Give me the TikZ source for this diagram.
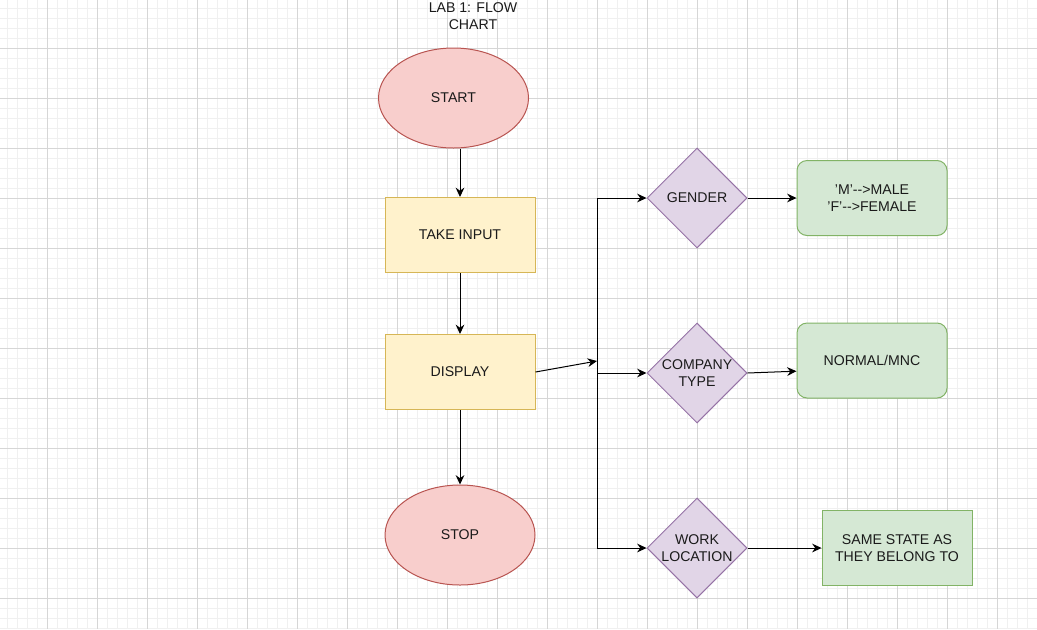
\documentclass[tikz,border=0pt]{standalone}
\usepackage{fontspec}
\setmainfont{Liberation Sans}
\usetikzlibrary{shapes.geometric,arrows.meta}

\definecolor{redfill}{HTML}{F8CECC}
\definecolor{redline}{HTML}{B85450}
\definecolor{yelfill}{HTML}{FFF2CC}
\definecolor{yelline}{HTML}{D6B656}
\definecolor{violfill}{HTML}{E1D5E7}
\definecolor{violline}{HTML}{9673A6}
\definecolor{grnfill}{HTML}{D5E8D4}
\definecolor{grnline}{HTML}{82B366}
\definecolor{txt}{HTML}{1A1A1A}

\begin{document}
\begin{tikzpicture}[x=0.75pt,y=-0.75pt,
    font=\fontsize{10.6}{13.2}\selectfont, text=txt,
    terminal/.style={ellipse, draw=redline, fill=redfill, line width=0.75pt,
        minimum width=112.5pt, minimum height=75pt, inner sep=0pt},
    process/.style={rectangle, draw=yelline, fill=yelfill, line width=0.75pt,
        minimum width=112.5pt, minimum height=56.25pt, inner sep=0pt},
    choice/.style={diamond, draw=violline, fill=violfill, line width=0.75pt,
        minimum width=75pt, minimum height=75pt, inner sep=0pt, align=center},
    result/.style={rectangle, draw=grnline, fill=grnfill, line width=0.75pt,
        minimum width=112.5pt, minimum height=56.25pt, inner sep=0pt, align=center},
    flow/.style={line width=0.75pt, -{Stealth[length=7pt,width=6.5pt]}}]

    % fond et grille
    \useasboundingbox (0,0) rectangle (1037,629);
    \fill[white] (0,0) rectangle (1037,629);
    \foreach \x in {7,17,...,1037} \draw[black!6, line width=0.5pt] (\x,0) -- (\x,629);
    \foreach \y in {8,18,...,629} \draw[black!6, line width=0.5pt] (0,\y) -- (1037,\y);
    \foreach \x in {47,97,...,1037} \draw[black!16, line width=0.6pt] (\x,0) -- (\x,629);
    \foreach \y in {48,98,...,629} \draw[black!16, line width=0.6pt] (0,\y) -- (1037,\y);

    % titre
    \node[align=center] (title) at (473,16) {LAB 1: FLOW\\CHART};

    % colonne principale
    \node[terminal] (start) at (453.5,98) {START};
    \node[process] (input) at (460,235) {TAKE INPUT};
    \node[process] (display) at (460,372) {DISPLAY};
    \node[terminal] (stop) at (460,535) {STOP};

    % decisions
    \node[choice] (gender) at (697,198) {GENDER};
    \node[choice] (company) at (697,373) {COMPANY\\TYPE};
    \node[choice] (work) at (697,548) {WORK\\LOCATION};

    % resultats
    \node[result, rounded corners=7.5pt] (male) at (872,198) {'M'-{}->MALE\\'F'-{}->FEMALE};
    \node[result, rounded corners=7.5pt] (mnc) at (872,360.5) {NORMAL/MNC};
    \node[result] (state) at (897,548) {SAME STATE AS\\THEY BELONG TO};

    % bus vertical
    \coordinate (busTop) at (597,198);
    \coordinate (busIn) at (597,361);
    \coordinate (busMid) at (597,373);
    \coordinate (busBot) at (597,548);
    \draw[line width=0.75pt] (busTop) -- (busBot);

    % fleches
    \draw[flow] (start.south -| input.north) -- (input.north);
    \draw[flow] (input) -- (display);
    \draw[flow] (display) -- (stop);
    \draw[flow] (display.east) -- (busIn);
    \draw[flow] (busTop) -- (gender.west);
    \draw[flow] (busMid) -- (company.west);
    \draw[flow] (busBot) -- (work.west);
    \draw[flow] (gender.east) -- (male.west);
    \draw[flow] (company.east) -- ([yshift=-8pt]mnc.west);
    \draw[flow] (work.east) -- (state.west);

\end{tikzpicture}
\end{document}
